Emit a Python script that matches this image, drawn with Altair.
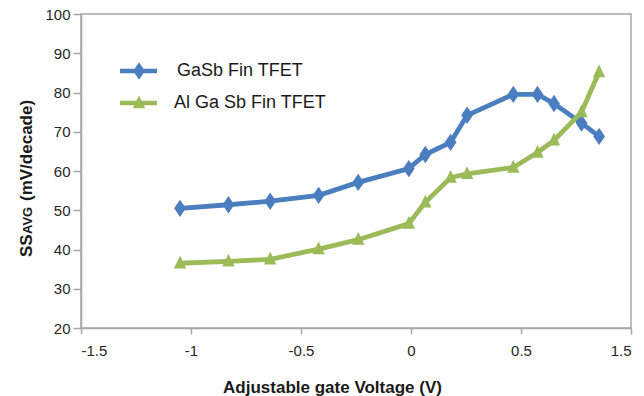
import altair as alt
import pandas as pd

# ---- data ----
voltage = [-1.05, -0.83, -0.64, -0.42, -0.24, -0.01, 0.065, 0.18, 0.255, 0.465, 0.575, 0.65, 0.775, 0.855]
gasb = [50.5, 51.4, 52.3, 53.8, 57.1, 60.6, 64.2, 67.3, 74.2, 79.5, 79.5, 77.2, 72.2, 68.8]
algasb = [36.5, 37.0, 37.5, 40.1, 42.5, 46.6, 52.0, 58.3, 59.3, 60.9, 64.7, 67.8, 75.0, 85.2]
series_names = ["GaSb Fin TFET", "Al Ga Sb Fin TFET"]
x_ticks = [-1.5, -1, -0.5, 0, 0.5, 1]
y_ticks = [20, 30, 40, 50, 60, 70, 80, 90, 100]

BLUE = "#4a7ebf"
GREEN = "#9bbb59"
DIAMOND = "M0,-1L0.68,0L0,1L-0.68,0Z"
TRIANGLE = "M0,-1.1L0.9,0.75L-0.9,0.75Z"
FONT = "Liberation Sans"

df = pd.DataFrame({
    "v": voltage * 2,
    "ss": gasb + algasb,
    "series": [series_names[0]] * len(voltage) + [series_names[1]] * len(voltage),
})

xscale = alt.Scale(domain=[-1.5, 1.0], nice=False, zero=False)
yscale = alt.Scale(domain=[20, 100], nice=False, zero=False)

xenc = alt.X("v:Q", scale=xscale, axis=alt.Axis(
    values=x_ticks, grid=False,
    labelExpr="datum.value == 1 ? '1.5' : toString(datum.value)",
    title="Adjustable gate Voltage (V)", titleFont=FONT, titleFontSize=17,
    titleFontWeight="bold", titleColor="#1a1a1a",
    titleX=251, titleY=64, titleBaseline="alphabetic", titleAlign="center",
    tickSize=6, labelPadding=9,
))
yenc = alt.Y("ss:Q", scale=yscale, axis=alt.Axis(
    values=y_ticks, grid=False, title=None, tickSize=8, labelPadding=3,
))

def series_layers(name, color, shape, size):
    d = df[df.series == name]
    line = alt.Chart(d).mark_line(color=color, strokeWidth=4.8).encode(x=xenc, y=yenc)
    pts = alt.Chart(d).mark_point(shape=shape, filled=True, opacity=1, color=color, size=size).encode(x=xenc, y=yenc)
    return [line, pts]

layers = []
layers += series_layers(series_names[0], BLUE, DIAMOND, 300)
layers += series_layers(series_names[1], GREEN, TRIANGLE, 190)

# legend
leg = [(series_names[0], BLUE, DIAMOND, 300, 57, 96), (series_names[1], GREEN, TRIANGLE, 190, 89, 93)]
for name, color, shape, size, yy, tx in leg:
    one = pd.DataFrame({"label": [name]})
    layers.append(alt.Chart(one).mark_rule(color=color, strokeWidth=4.5).encode(
        x=alt.value(39), x2=alt.value(76), y=alt.value(yy)))
    layers.append(alt.Chart(one).mark_point(shape=shape, filled=True, opacity=1, color=color, size=size).encode(
        x=alt.value(58), y=alt.value(yy)))
    layers.append(alt.Chart(one).mark_text(align="left", baseline="middle", font=FONT, fontSize=18,
                                            color="#1a1a1a").encode(
        x=alt.value(tx), y=alt.value(yy), text="label:N"))

# y-axis title: SS + small AVG + (mV/decade)
ttl = [("SS", 17, 243), ("AVG", 13, 220), ("(mV/decade)", 17, 187)]
for txt, fs, yy in ttl:
    layers.append(alt.Chart(pd.DataFrame({"t": [txt]})).mark_text(
        angle=270, align="left", baseline="alphabetic", font=FONT, fontSize=fs,
        fontWeight="bold", color="#1a1a1a").encode(
        x=alt.value(-49), y=alt.value(yy), text="t:N"))

chart = alt.layer(*layers).properties(
    width=550, height=314,
    padding={"left": 81, "top": 14, "right": 13, "bottom": 68},
    autosize="none",
    background="white",
).configure_view(
    stroke="#a6a6a6", strokeWidth=1.5,
).configure_axis(
    domainColor="#a6a6a6", domainWidth=1.5, tickColor="#a6a6a6", tickWidth=1.5,
    labelFont=FONT, labelFontSize=15, labelColor="#262626",
)

chart.save("out.html", embed_options={"renderer": "svg", "actions": False})
